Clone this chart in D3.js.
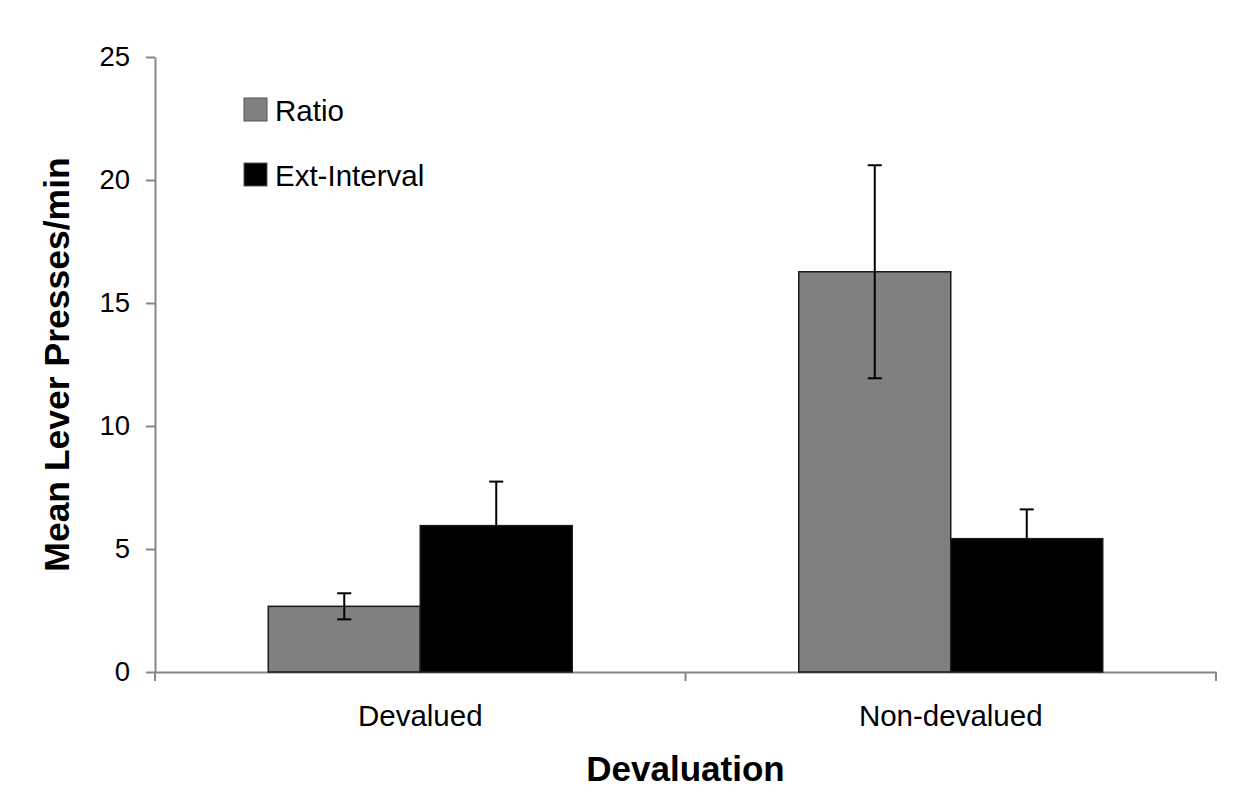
<!DOCTYPE html>
<html>
<head>
<meta charset="utf-8">
<script src="https://cdn.jsdelivr.net/npm/d3@7"></script>
<style>
  body { margin: 0; background: #fff; }
  svg { display: block; font-family: Arial, "Liberation Sans", sans-serif; }
</style>
</head>
<body>
<div id="chart-area"></div>
<script>
// data
const categories = ['Devalued', 'Non-devalued'];
const seriesNames = ['Ratio', 'Ext-Interval'];
const ratioMeans = [2.67, 16.27];
const ratioErrors = [0.53, 4.33];
const extMeans = [5.95, 5.42];
const extErrors = [1.79, 1.19];
const yTicks = [0, 5, 10, 15, 20, 25];

const W = 1239, H = 794;
const margin = { left: 155, right: 23, top: 57, bottom: 122 };
const colors = { 'Ratio': '#808080', 'Ext-Interval': '#000000' };
const axisColor = '#878787';

const rows = categories.map((c, i) => ({
  category: c,
  values: [
    { series: 'Ratio', mean: ratioMeans[i], err: ratioErrors[i] },
    { series: 'Ext-Interval', mean: extMeans[i], err: extErrors[i] },
  ],
}));

const svg = d3.select('#chart-area').append('svg')
  .attr('width', W)
  .attr('height', H);

const x0 = d3.scaleBand()
  .domain(categories)
  .range([margin.left, W - margin.right])
  .paddingInner(0.427)
  .paddingOuter(0.2135);

const x1 = d3.scaleBand()
  .domain(seriesNames)
  .range([0, x0.bandwidth()]);

const y = d3.scaleLinear()
  .domain([0, 25])
  .range([H - margin.bottom, margin.top]);

// Y axis
const yAxis = svg.append('g')
  .attr('transform', `translate(${margin.left},0)`)
  .call(d3.axisLeft(y).tickValues(yTicks).tickSize(9).tickSizeOuter(0).tickPadding(16));
yAxis.select('.domain').attr('stroke', axisColor).attr('stroke-width', 2);
yAxis.selectAll('.tick line').attr('stroke', axisColor).attr('stroke-width', 2);
yAxis.selectAll('.tick text')
  .attr('font-size', 27.5)
  .attr('fill', '#000')
  .attr('font-family', 'Arial, "Liberation Sans", sans-serif');

// X axis (labels in band centres, ticks at band boundaries)
const xAxis = svg.append('g')
  .attr('transform', `translate(0,${y(0)})`)
  .call(d3.axisBottom(x0).tickSize(0).tickSizeOuter(0).tickPadding(33));
xAxis.select('.domain').attr('stroke', axisColor).attr('stroke-width', 2);
xAxis.selectAll('.tick text')
  .attr('font-size', 29.5)
  .attr('fill', '#000')
  .attr('font-family', 'Arial, "Liberation Sans", sans-serif');

const boundaries = d3.range(categories.length + 1)
  .map(i => x0.range()[0] + i * x0.step());
xAxis.selectAll('.bound')
  .data(boundaries)
  .enter()
  .append('line')
  .attr('class', 'bound')
  .attr('x1', d => d)
  .attr('x2', d => d)
  .attr('y1', 0)
  .attr('y2', 9)
  .attr('stroke', axisColor)
  .attr('stroke-width', 2);

// bars
const groups = svg.append('g')
  .selectAll('g')
  .data(rows)
  .enter()
  .append('g')
  .attr('transform', d => `translate(${x0(d.category)},0)`);

groups.selectAll('rect')
  .data(d => d.values)
  .enter()
  .append('rect')
  .attr('x', d => x1(d.series))
  .attr('y', d => y(d.mean))
  .attr('width', x1.bandwidth())
  .attr('height', d => y(0) - y(d.mean))
  .attr('fill', d => colors[d.series])
  .attr('stroke', '#1a1a1a')
  .attr('stroke-width', 1.5);

// error bars
const capHalf = 7;
const errs = groups.selectAll('.err')
  .data(d => d.values)
  .enter()
  .append('g')
  .attr('class', 'err')
  .attr('transform', d => `translate(${x1(d.series) + x1.bandwidth() / 2},0)`)
  .attr('stroke', '#000')
  .attr('stroke-width', 2);
errs.append('line')
  .attr('y1', d => y(d.mean - d.err))
  .attr('y2', d => y(d.mean + d.err));
errs.append('line')
  .attr('x1', -capHalf).attr('x2', capHalf)
  .attr('y1', d => y(d.mean + d.err))
  .attr('y2', d => y(d.mean + d.err));
errs.append('line')
  .attr('x1', -capHalf).attr('x2', capHalf)
  .attr('y1', d => y(d.mean - d.err))
  .attr('y2', d => y(d.mean - d.err));

// legend
const legend = svg.append('g')
  .attr('transform', 'translate(244,98)')
  .selectAll('g')
  .data(seriesNames)
  .enter()
  .append('g')
  .attr('transform', (d, i) => `translate(0,${i * 65})`);
legend.append('rect')
  .attr('width', 23)
  .attr('height', 23)
  .attr('fill', d => colors[d])
  .attr('stroke', '#555')
  .attr('stroke-width', 1);
legend.append('text')
  .attr('x', 31)
  .attr('y', 23)
  .attr('font-size', 29.5)
  .text(d => d);

// axis titles
svg.append('text')
  .attr('x', (x0.range()[0] + x0.range()[1]) / 2)
  .attr('y', 781)
  .attr('text-anchor', 'middle')
  .attr('font-size', 35)
  .attr('font-weight', 'bold')
  .text('Devaluation');

svg.append('text')
  .attr('transform', `translate(69,${(y(0) + y(25)) / 2}) rotate(-90)`)
  .attr('text-anchor', 'middle')
  .attr('font-size', 35.5)
  .attr('font-weight', 'bold')
  .text('Mean Lever Presses/min');
</script>
</body>
</html>
